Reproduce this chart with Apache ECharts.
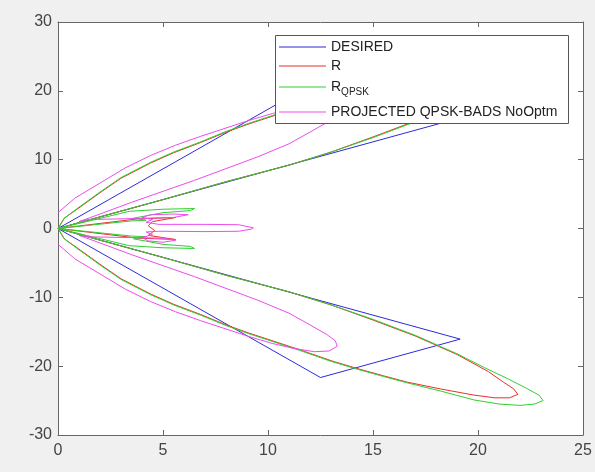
<!DOCTYPE html>
<html>
<head>
<meta charset="utf-8">
<script src="https://cdn.jsdelivr.net/npm/echarts@6/dist/echarts.min.js"></script>
<style>
  html, body { margin: 0; padding: 0; background: #f0f0f0; }
  #chart { width: 595px; height: 472px; }
</style>
</head>
<body>
<div id="chart"></div>
<script>
// legend names
var names = ['DESIRED', 'R', 'R_QPSK', 'PROJECTED QPSK-BADS NoOptm'];

// axis ranges
var xRange = [0, 25, 5];
var yRange = [-30, 30, 10];

// DESIRED: two flat-top beams between 40 and 60 degrees
var desiredXY = [
	[0, 0], [12.5, 21.65], [19.15, 16.07], [0, 0],
	[12.5, -21.65], [19.15, -16.07], [0, 0]
];

// R
var rXY = [
	[0, 0], [2, 1.7], [5, 4.2], [8, 6.8], [11, 9.2], [13, 11.1], [15, 13.3], [17, 15.6], [19, 18.3],
	[20.5, 20.8], [21.2, 22.3], [21.7, 23.3], [21.9, 24.1], [21.5, 24.6], [20.8, 24.6], [19.8, 24.2],
	[18.2, 23.3], [16.6, 22.3], [15.5, 21.4], [14.2, 20.3], [13, 19.2], [11.5, 17.6], [10, 16.1],
	[9.1, 15.2], [8, 14], [6.8, 12.5], [5.5, 11], [4.4, 9.5], [3, 7.3], [2, 5.2], [1, 3], [0.3, 1.5], [0, 0],
	[3.8, 1.4], [5.6, 1.6], [4.5, 1.0], [4.3, 0.4], [4.6, -0.3], [4.3, -1.0], [5.6, -1.6], [3.8, -1.4], [0, 0],
	[0.3, -1.5], [1, -3], [2, -5.2], [3, -7.3], [4.4, -9.5], [5.5, -11], [6.8, -12.5], [8, -14], [9.1, -15.2],
	[10, -16.1], [11.5, -17.6], [13, -19.2], [14.2, -20.3], [15.5, -21.4], [16.6, -22.3], [18.2, -23.3],
	[19.8, -24.2], [20.8, -24.6], [21.5, -24.6], [21.9, -24.1], [21.7, -23.3], [21.2, -22.3], [20.5, -20.8],
	[19, -18.3], [17, -15.6], [15, -13.3], [13, -11.1], [11, -9.2], [8, -6.8], [5, -4.2], [2, -1.7], [0, 0]
];

// R_QPSK
var rqpskXY = [
	[0, 0], [2, 1.7], [5, 4.2], [8, 6.8], [11, 9.2], [13, 11.1], [15, 13.2], [17, 15.5], [19, 18.2],
	[20.3, 20.2], [21.4, 21.8], [22.3, 23.2], [22.9, 24.2], [23.1, 25], [22.7, 25.5], [22, 25.7], [21, 25.5],
	[19.8, 24.9], [18.2, 23.6], [16.6, 22.4], [15.5, 21.5], [14.2, 20.4], [13, 19.3], [11.5, 17.7], [10, 16.2],
	[9.1, 15.3], [8, 14.1], [6.8, 12.6], [5.5, 11.1], [4.4, 9.6], [3, 7.4], [2, 5.3], [1, 3.1], [0.3, 1.5], [0, 0],
	[3.4, 2.5], [5, 2.8], [6.5, 2.9], [6.3, 2.6], [5, 2.3], [3.6, 1.5], [4.2, 1.2], [3.5, 1.1], [0, 0],
	[3.5, -1.1], [4.2, -1.2], [3.6, -1.5], [5, -2.3], [6.3, -2.6], [6.5, -2.9], [5, -2.8], [3.4, -2.5], [0, 0],
	[0.3, -1.5], [1, -3.1], [2, -5.3], [3, -7.4], [4.4, -9.6], [5.5, -11.1], [6.8, -12.6], [8, -14.1], [9.1, -15.3],
	[10, -16.2], [11.5, -17.7], [13, -19.3], [14.2, -20.4], [15.5, -21.5], [16.6, -22.4], [18.2, -23.6],
	[19.8, -24.9], [21, -25.5], [22, -25.7], [22.7, -25.5], [23.1, -25], [22.9, -24.2], [22.3, -23.2],
	[21.4, -21.8], [20.3, -20.2], [19, -18.2], [17, -15.5], [15, -13.2], [13, -11.1], [11, -9.2], [8, -6.8],
	[5, -4.2], [2, -1.7], [0, 0]
];

// PROJECTED QPSK-BADS NoOptm
var projXY = [
	[0, -2.3], [0.8, -4.4], [2, -6.6], [3.2, -8.8], [4.4, -10.6], [5.6, -12.1], [6.8, -13.4], [8, -14.6],
	[9.1, -15.7], [10.2, -16.7], [11.2, -17.4], [12.2, -17.9], [12.9, -17.8], [13.3, -17.1], [13.2, -16.3],
	[12.8, -15.4], [12, -14], [11, -12.3], [9.5, -10.4], [8, -8.7], [6.5, -7], [5, -5.4], [3.5, -3.8], [2, -2.1],
	[1, -1.0], [1.4, -1.2], [3, -1.3], [5, -1.4], [5.6, -1.7], [5, -2.0], [4.3, -1.8], [4, -1.3], [4.5, -0.9],
	[4.2, -0.5], [4.8, -0.4], [7, -0.45], [8.6, -0.4], [9.2, -0.1], [9.3, 0.1], [8.6, 0.55], [7, 0.6], [4.8, 0.6],
	[4.2, 0.9], [4.5, 1.3], [4, 1.6], [4.4, 2.0], [5.5, 2.1], [6.2, 2.0], [5.5, 1.6], [3, 1.4], [1.4, 1.3],
	[1, 1.0], [2, 2.1], [3.5, 3.8], [5, 5.4], [6.5, 7], [8, 8.7], [9.5, 10.4], [11, 12.3], [12, 14], [12.8, 15.4],
	[13.2, 16.3], [13.3, 17.1], [12.9, 17.8], [12.2, 17.9], [11.2, 17.4], [10.2, 16.7], [9.1, 15.7], [8, 14.6],
	[6.8, 13.4], [5.6, 12.1], [4.4, 10.6], [3.2, 8.8], [2, 6.6], [0.8, 4.4], [0, 2.3]
];

var colors = ['#2b2bdc', '#e8302c', '#2fd02f', '#ec4cec'];
var allXY = [desiredXY, rXY, rqpskXY, projXY];
var legendTops = [40, 59, 80, 105];

var chart = echarts.init(document.getElementById('chart'));

var series = [];
var legends = [];
for (var i = 0; i < names.length; i++) {
	series.push({
		name: names[i],
		type: 'line',
		data: allXY[i],
		showSymbol: false,
		symbol: 'none',
		lineStyle: { color: colors[i], width: 1 },
		itemStyle: { color: colors[i] },
		animation: false,
		z: 2 + i * 0.01
	});
	legends.push({
		data: [names[i]],
		left: 279,
		top: legendTops[i],
		icon: 'rect',
		itemWidth: 47,
		itemHeight: 1,
		padding: 0,
		selectedMode: false,
		z: 6,
		formatter: function (n) {
			return n === 'R_QPSK' ? '{a|R}{b|QPSK}' : n;
		},
		textStyle: {
			fontFamily: 'Liberation Sans, Arial, sans-serif',
			fontSize: 14,
			color: '#222',
			padding: [0, 0, 0, 0],
			rich: {
				a: { fontSize: 14, color: '#222', fontFamily: 'Liberation Sans' },
				b: { fontSize: 10, color: '#222', fontFamily: 'Liberation Sans', padding: [10, 0, 0, 0] }
			}
		}
	});
}

var axisCol = '#666';
var labelStyle = { fontFamily: 'Liberation Sans, Arial, sans-serif', fontSize: 16, color: '#444' };

var option = {
	backgroundColor: '#f0f0f0',
	animation: false,
	grid: { left: 58, right: 12, top: 22, bottom: 37, show: true, backgroundColor: '#fff', borderWidth: 0 },
	legend: legends,
	graphic: [{
		type: 'rect',
		shape: { x: 275.5, y: 35.5, width: 293, height: 88 },
		style: { fill: '#fff', stroke: '#555', lineWidth: 1 },
		z: 5
	}],
	xAxis: [{
		type: 'value', min: xRange[0], max: xRange[1], interval: xRange[2], position: 'bottom',
		axisLine: { show: true, onZero: false, lineStyle: { color: axisCol } },
		axisTick: { inside: true, length: 5, lineStyle: { color: axisCol } },
		splitLine: { show: false },
		axisLabel: Object.assign({ margin: 8 }, labelStyle)
	}, {
		type: 'value', min: xRange[0], max: xRange[1], interval: xRange[2], position: 'top',
		axisLine: { show: true, onZero: false, lineStyle: { color: axisCol } },
		axisTick: { inside: true, length: 5, lineStyle: { color: axisCol } },
		splitLine: { show: false },
		axisLabel: { show: false }
	}],
	yAxis: [{
		type: 'value', min: yRange[0], max: yRange[1], interval: yRange[2], position: 'left',
		axisLine: { show: true, onZero: false, lineStyle: { color: axisCol } },
		axisTick: { inside: true, length: 5, lineStyle: { color: axisCol } },
		splitLine: { show: false },
		axisLabel: Object.assign({ margin: 6 }, labelStyle)
	}, {
		type: 'value', min: yRange[0], max: yRange[1], interval: yRange[2], position: 'right',
		axisLine: { show: true, onZero: false, lineStyle: { color: axisCol } },
		axisTick: { inside: true, length: 5, lineStyle: { color: axisCol } },
		splitLine: { show: false },
		axisLabel: { show: false }
	}],
	series: series
};

chart.setOption(option);
</script>
</body>
</html>
